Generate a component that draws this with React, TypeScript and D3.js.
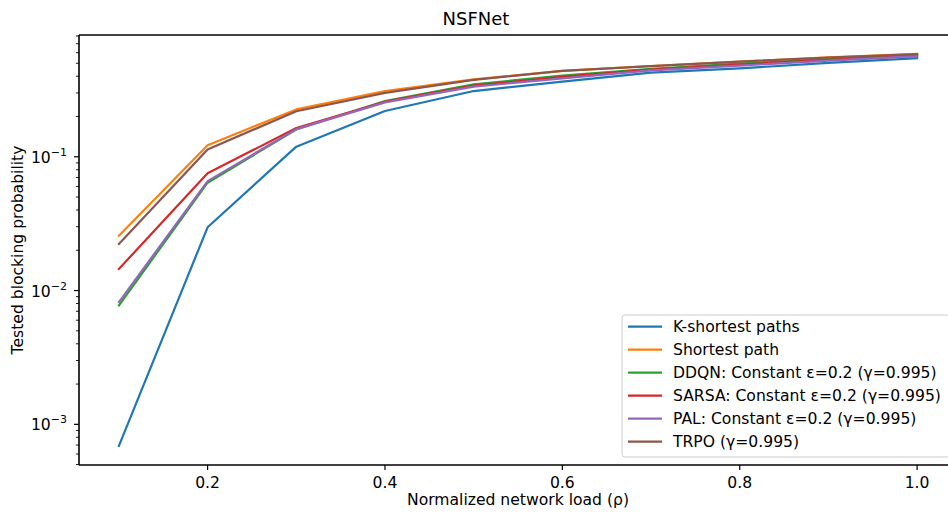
import React from "react";
import * as d3 from "d3";

const loads = [0.1, 0.2, 0.3, 0.4, 0.5, 0.6, 0.7, 0.8, 0.9, 1.0];
const kShortest = [0.00069, 0.0297, 0.119, 0.22, 0.31, 0.364, 0.425, 0.458, 0.503, 0.545];
const shortest = [0.0257, 0.122, 0.226, 0.31, 0.379, 0.438, 0.477, 0.515, 0.553, 0.587];
const ddqn = [0.00775, 0.064, 0.16, 0.261, 0.348, 0.404, 0.455, 0.497, 0.537, 0.575];
const sarsa = [0.0145, 0.0752, 0.164, 0.258, 0.34, 0.395, 0.448, 0.488, 0.53, 0.568];
const pal = [0.0082, 0.0658, 0.161, 0.255, 0.334, 0.386, 0.443, 0.48, 0.523, 0.564];
const trpo = [0.0223, 0.1135, 0.219, 0.30, 0.376, 0.438, 0.476, 0.514, 0.552, 0.586];

const seriesNames = [
  "K-shortest paths",
  "Shortest path",
  "DDQN: Constant ε=0.2 (γ=0.995)",
  "SARSA: Constant ε=0.2 (γ=0.995)",
  "PAL: Constant ε=0.2 (γ=0.995)",
  "TRPO (γ=0.995)",
];
const seriesValues = [kShortest, shortest, ddqn, sarsa, pal, trpo];
const colors = ["#1f77b4", "#ff7f0e", "#2ca02c", "#d62728", "#9467bd", "#8c564b"];

const xTicks = [0.2, 0.4, 0.6, 0.8, 1.0];
const yMajor = [-3, -2, -1];

export default function App() {
  const W = 948;
  const H = 513;
  const left = 79, right = 957, top = 35, bottom = 465;
  const x = d3.scaleLinear().domain([0.055, 1.045]).range([left, right]);
  const y = d3.scaleLog().domain([Math.pow(10, -3.304), Math.pow(10, -0.0898)]).range([bottom, top]);
  const [yMin, yMax] = y.domain();

  const minor: number[] = [];
  for (let e = -4; e <= 0; e++) {
    for (let m = 2; m <= 9; m++) {
      const v = m * Math.pow(10, e);
      if (v >= yMin && v <= yMax) minor.push(v);
    }
  }

  const line = d3
    .line<number>()
    .x((_, i) => x(loads[i]))
    .y((d) => y(d));

  const font = "'DejaVu Sans', sans-serif";
  const fs = 15.6;
  const legX = 622, legY = 315, legW = 328, legH = 142;

  return (
    <svg
      width={W}
      height={H}
      style={{ position: "absolute", left: 0, top: 0, display: "block", background: "#fff" }}
      fontFamily={font}
    >
      <rect x={0} y={0} width={W} height={H} fill="#fff" />
      {/* lines */}
      <g fill="none" strokeWidth={2.2} strokeLinecap="square" strokeLinejoin="round">
        {seriesValues.map((vals, i) => (
          <path key={i} d={line(vals) || ""} stroke={colors[i]} />
        ))}
      </g>
      {/* spines */}
      <g stroke="#000" strokeWidth={1.6} fill="none">
        <line x1={left} y1={top} x2={left} y2={bottom} />
        <line x1={left} y1={bottom} x2={right} y2={bottom} />
        <line x1={left} y1={top} x2={right} y2={top} />
        <line x1={right} y1={top} x2={right} y2={bottom} />
      </g>
      {/* x ticks */}
      {xTicks.map((t) => (
        <g key={t}>
          <line x1={x(t)} x2={x(t)} y1={bottom} y2={bottom + 5} stroke="#000" strokeWidth={1.2} />
          <text x={x(t)} y={488} fontSize={fs} textAnchor="middle" fill="#000">
            {t.toFixed(1)}
          </text>
        </g>
      ))}
      {/* y minor ticks */}
      {minor.map((v, i) => (
        <line key={i} x1={left - 3} x2={left} y1={y(v)} y2={y(v)} stroke="#000" strokeWidth={0.9} />
      ))}
      {/* y major ticks */}
      {yMajor.map((e) => (
        <g key={e}>
          <line x1={left - 5} x2={left} y1={y(Math.pow(10, e))} y2={y(Math.pow(10, e))} stroke="#000" strokeWidth={1.2} />
          <text x={67} y={y(Math.pow(10, e)) + 6} fontSize={fs} textAnchor="end" fill="#000">
            10
            <tspan dy={-7} fontSize={11}>
              {"\u2212" + Math.abs(e)}
            </tspan>
          </text>
        </g>
      ))}
      {/* labels */}
      <text x={476} y={25} fontSize={18} textAnchor="middle" fill="#000">
        NSFNet
      </text>
      <text x={(left + right) / 2} y={505} fontSize={fs} textAnchor="middle" fill="#000">
        Normalized network load (ρ)
      </text>
      <text
        transform={`translate(23, ${(top + bottom) / 2}) rotate(-90)`}
        fontSize={fs}
        textAnchor="middle"
        fill="#000"
      >
        Tested blocking probability
      </text>
      {/* legend */}
      <g>
        <rect
          x={legX}
          y={legY}
          width={legW}
          height={legH}
          rx={3}
          fill="#fff"
          fillOpacity={0.8}
          stroke="#cccccc"
          strokeWidth={1}
        />
        {seriesNames.map((name, i) => {
          const cy = 326.7 + i * 23;
          return (
            <g key={name}>
              <line x1={628} x2={662} y1={cy} y2={cy} stroke={colors[i]} strokeWidth={2.2} />
              <text x={673} y={cy + 5.5} fontSize={fs} fill="#000">
                {name}
              </text>
            </g>
          );
        })}
      </g>
    </svg>
  );
}
